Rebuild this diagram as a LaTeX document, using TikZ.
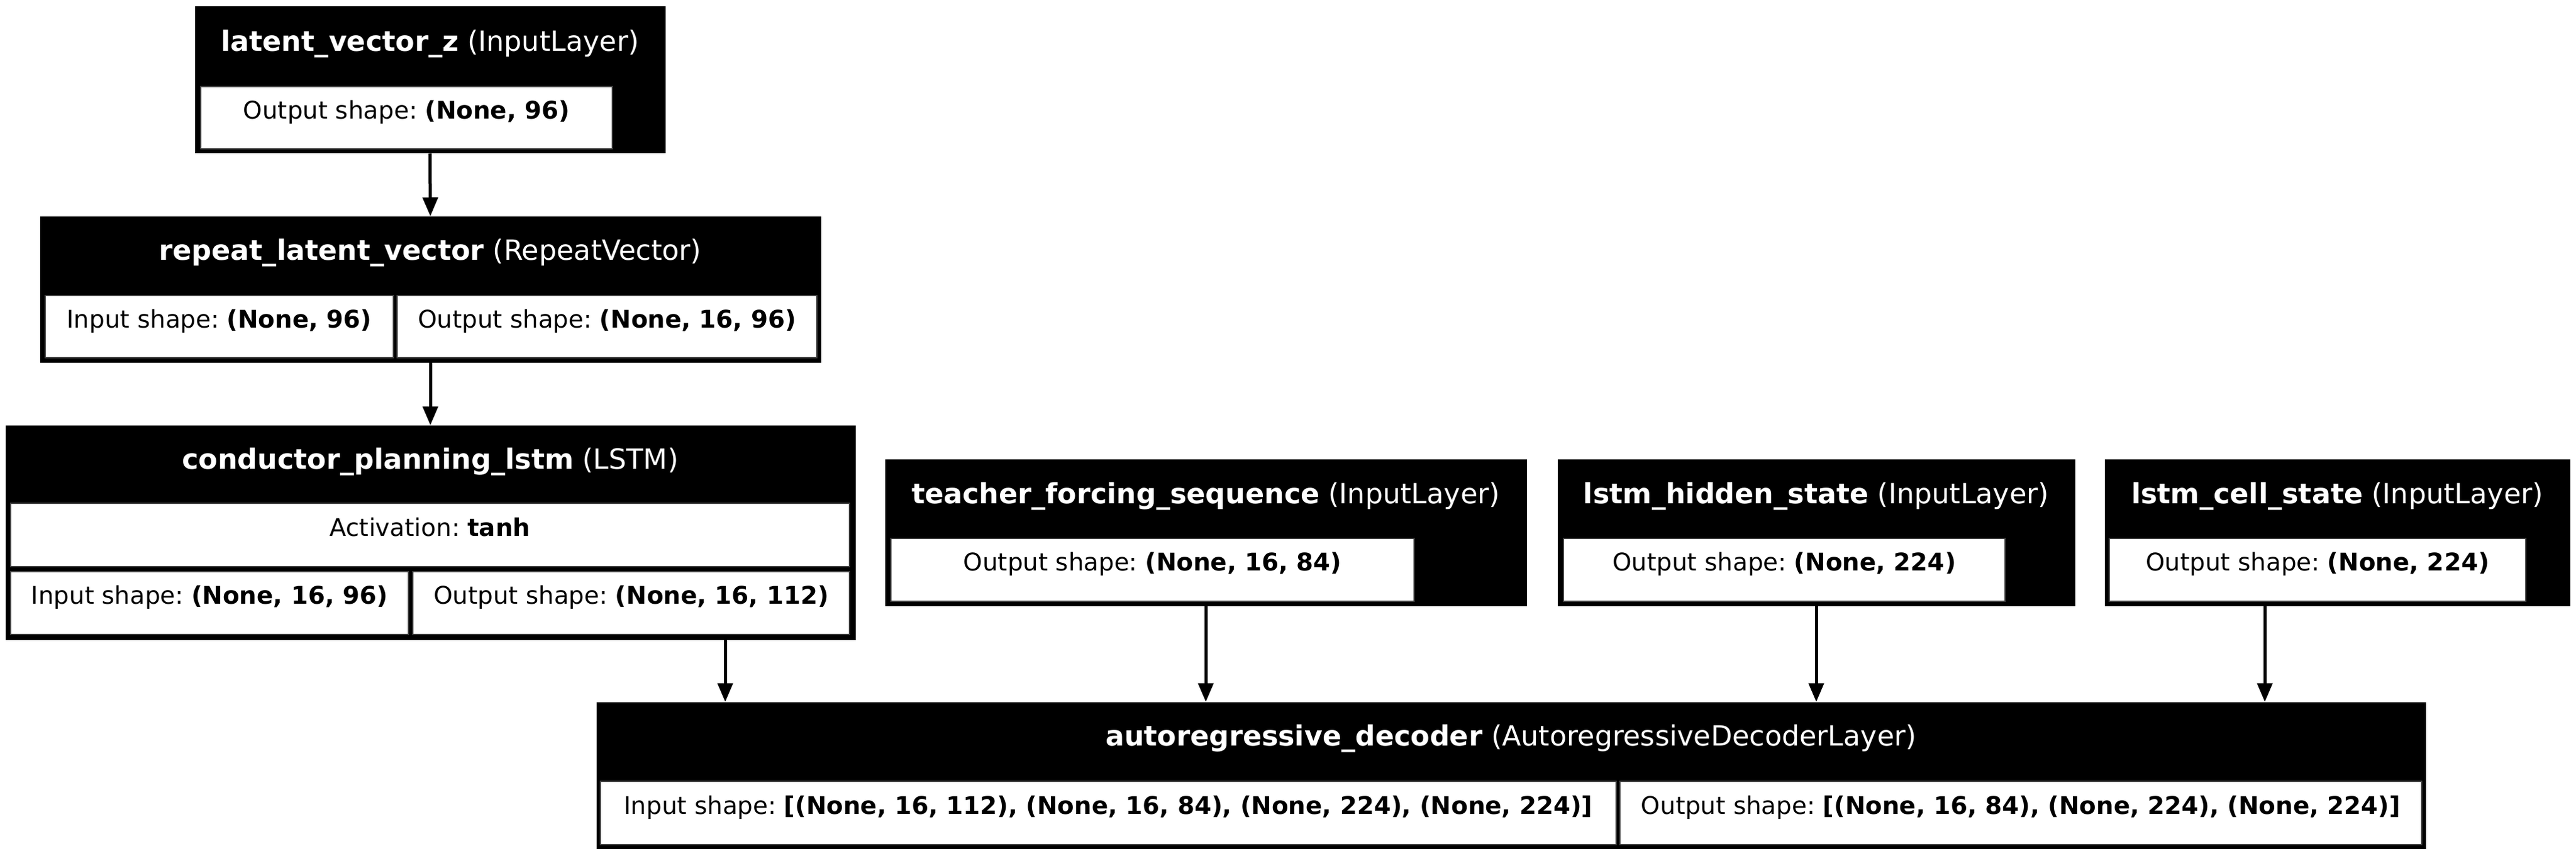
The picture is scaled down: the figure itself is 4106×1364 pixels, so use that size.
\documentclass[tikz,border=0pt]{standalone}
\usepackage{fontspec}
\setmainfont{DejaVu Sans}
\usepackage{tikz}
\usetikzlibrary{arrows.meta}
\frenchspacing

\tikzset{
    layer/.style={fill=black, draw=black, line width=1pt, inner sep=0pt},
    cell/.style={fill=white, draw=black!75, line width=1.5pt, inner sep=0pt,
                 text height=0.7em, text depth=0.31em,
                 font=\fontsize{38.8}{46}\selectfont},
    title/.style={text=white, anchor=base, inner sep=0pt,
                  font=\fontsize{44.4}{53}\selectfont},
    flow/.style={-{Triangle[length=30pt,width=24pt]}, line width=5pt}
}

\begin{document}
\begin{tikzpicture}[x=1pt, y=-1pt]
    \useasboundingbox (0,0) rectangle (4106,1364);

    % layers
    \node[layer, minimum width=749pt, minimum height=233pt] (latent) at (685.5,127.5) {};
    \node[layer, minimum width=1244pt, minimum height=232pt] (repeat) at (686,461) {};
    \node[layer, minimum width=1354pt, minimum height=341pt] (conductor) at (686,848.5) {};
    \node[layer, minimum width=1022pt, minimum height=233pt] (teacher) at (1922,848.5) {};
    \node[layer, minimum width=824pt, minimum height=233pt] (hidden) at (2895,848.5) {};
    \node[layer, minimum width=741pt, minimum height=233pt] (cellstate) at (3725.5,848.5) {};
    \node[layer, minimum width=2915pt, minimum height=233pt] (decoder) at (2408.5,1235.5) {};

    % titles
    \node[title] (latent-t) at (685.5,82) {\textbf{latent\_vector\_z} (InputLayer)};
    \node[title] (repeat-t) at (686,414) {\textbf{repeat\_latent\_vector} (RepeatVector)};
    \node[title] (conductor-t) at (686,747) {\textbf{conductor\_planning\_lstm} (LSTM)};
    \node[title] (teacher-t) at (1922,802) {\textbf{teacher\_forcing\_sequence} (InputLayer)};
    \node[title] (hidden-t) at (2895,802) {\textbf{lstm\_hidden\_state} (InputLayer)};
    \node[title] (cellstate-t) at (3725.5,802) {\textbf{lstm\_cell\_state} (InputLayer)};
    \node[title] (decoder-t) at (2408.5,1188) {\textbf{autoregressive\_decoder} (AutoregressiveDecoderLayer)};

    % shape cells
    \node[cell, minimum width=656pt, minimum height=99pt] (latent-out) at (648,187.5)
        {Output shape: \textbf{(None, 96)}};
    \node[cell, minimum width=555pt, minimum height=99pt] (repeat-in) at (349.5,520.5)
        {Input shape: \textbf{(None, 96)}};
    \node[cell, minimum width=669pt, minimum height=99pt] (repeat-out) at (967.5,520.5)
        {Output shape: \textbf{(None, 16, 96)}};
    \node[cell, minimum width=1337pt, minimum height=101pt] (conductor-act) at (685.5,852.5)
        {Activation: \textbf{tanh}};
    \node[cell, minimum width=634pt, minimum height=100pt] (conductor-in) at (334,961)
        {Input shape: \textbf{(None, 16, 96)}};
    \node[cell, minimum width=696pt, minimum height=100pt] (conductor-out) at (1006,961)
        {Output shape: \textbf{(None, 16, 112)}};
    \node[cell, minimum width=834pt, minimum height=100pt] (teacher-out) at (1837,908)
        {Output shape: \textbf{(None, 16, 84)}};
    \node[cell, minimum width=704pt, minimum height=100pt] (hidden-out) at (2844,908)
        {Output shape: \textbf{(None, 224)}};
    \node[cell, minimum width=664pt, minimum height=100pt] (cellstate-out) at (3694,908)
        {Output shape: \textbf{(None, 224)}};
    \node[cell, minimum width=1619pt, minimum height=101pt] (decoder-in) at (1766.5,1295.5)
        {Input shape: \textbf{[(None, 16, 112), (None, 16, 84), (None, 224), (None, 224)]}};
    \node[cell, minimum width=1278pt, minimum height=101pt] (decoder-out) at (3221,1295.5)
        {Output shape: \textbf{[(None, 16, 84), (None, 224), (None, 224)]}};

    % connections
    \draw[flow] (latent.south) -- (repeat.north);
    \draw[flow] (repeat.south) -- (conductor.north);
    \draw[flow] ([xshift=470pt]conductor.south) -- ([xshift=470pt]conductor.south |- decoder.north);
    \draw[flow] (teacher.south) -- (teacher.south |- decoder.north);
    \draw[flow] (hidden.south) -- (hidden.south |- decoder.north);
    \draw[flow] ([xshift=-115.5pt]cellstate.south) -- ([xshift=-115.5pt]cellstate.south |- decoder.north);
\end{tikzpicture}
\end{document}
